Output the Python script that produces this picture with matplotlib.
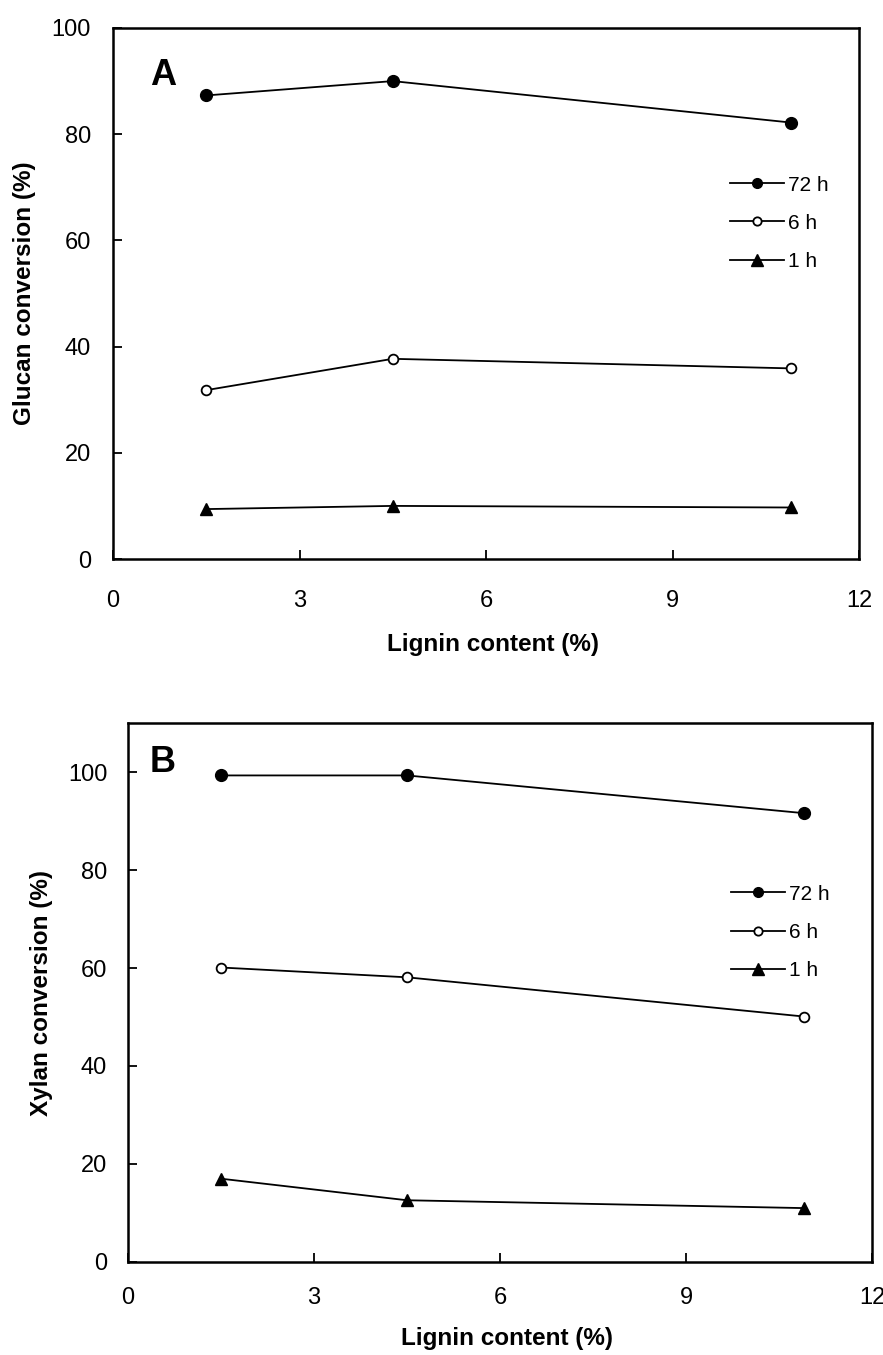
import matplotlib
matplotlib.use("Agg")
import matplotlib.pyplot as plt

plt.rcParams['font.family'] = ['Liberation Sans', 'DejaVu Sans']

lignin = [1.5, 4.5, 10.9]
glucan_72h = [87.3, 90.0, 82.2]
glucan_6h = [31.8, 37.7, 35.9]
glucan_1h = [9.4, 10.0, 9.7]
xylan_72h = [99.3, 99.3, 91.6]
xylan_6h = [60.1, 58.1, 50.1]
xylan_1h = [17.0, 12.6, 11.0]
series_labels = ['72 h', '6 h', '1 h']
xticks = [0, 3, 6, 9, 12]

W, H = 883, 1355
fig = plt.figure(figsize=(W / 100, H / 100), dpi=100)

def px_axes(left, top, right, bottom):
    return fig.add_axes([left / W, 1 - bottom / H, (right - left) / W, (bottom - top) / H])

axA = px_axes(113, 28, 859, 559)
axB = px_axes(128, 723, 872, 1262)

def draw(ax, s72, s6, s1, ylim, yticks, ylabel, letter, letter_pos, leg_anchor,
         xpad, ypad, ylab_x, xlab_y):
    ax.plot(lignin, s72, '-', color='black', lw=1.3, marker='o', ms=8.5,
            mfc='black', mec='black', label=series_labels[0])
    ax.plot(lignin, s6, '-', color='black', lw=1.3, marker='o', ms=7,
            mfc='white', mec='black', mew=1.3, label=series_labels[1])
    ax.plot(lignin, s1, '-', color='black', lw=1.3, marker='^', ms=9,
            mfc='black', mec='black', label=series_labels[2])
    ax.set_xlim(0, 12)
    ax.set_ylim(*ylim)
    ax.set_xticks(xticks)
    ax.set_yticks(yticks)
    for sp in ax.spines.values():
        sp.set_linewidth(1.8)
    ax.tick_params(axis='both', direction='in', length=6.5, width=1.3,
                   labelsize=17, top=False, right=False)
    ax.tick_params(axis='x', pad=xpad)
    ax.tick_params(axis='y', pad=ypad)
    ax.set_xlabel('Lignin content (%)', fontsize=17.5, fontweight='bold')
    ax.set_ylabel(ylabel, fontsize=17.5, fontweight='bold')
    ax.yaxis.set_label_coords(ylab_x, 0.5)
    ax.xaxis.set_label_coords(0.51, xlab_y)
    ax.text(letter_pos[0], letter_pos[1], letter, transform=ax.transAxes, fontsize=26,
            fontweight='bold', ha='center', va='center')
    ax.legend(handles=[
        plt.Line2D([], [], color='black', lw=1.3, marker='o', ms=7, mfc='black', mec='black'),
        plt.Line2D([], [], color='black', lw=1.3, marker='o', ms=6, mfc='white', mec='black', mew=1.3),
        plt.Line2D([], [], color='black', lw=1.3, marker='^', ms=8, mfc='black', mec='black'),
    ], labels=series_labels, loc='upper left', bbox_to_anchor=leg_anchor,
        frameon=False, fontsize=15, handlelength=2.6, handletextpad=0.2,
        labelspacing=0.92, borderpad=0, borderaxespad=0)

draw(axA, glucan_72h, glucan_6h, glucan_1h, (0, 100), [0, 20, 40, 60, 80, 100],
     'Glucan conversion (%)', 'A', (0.067, 0.911), (0.827, 0.722), 22, 16, -0.103, -0.14)
draw(axB, xylan_72h, xylan_6h, xylan_1h, (0, 110), [0, 20, 40, 60, 80, 100],
     'Xylan conversion (%)', 'B', (0.047, 0.926), (0.81, 0.70), 18, 15, -0.101, -0.12)

fig.savefig('out.png', dpi=100)
